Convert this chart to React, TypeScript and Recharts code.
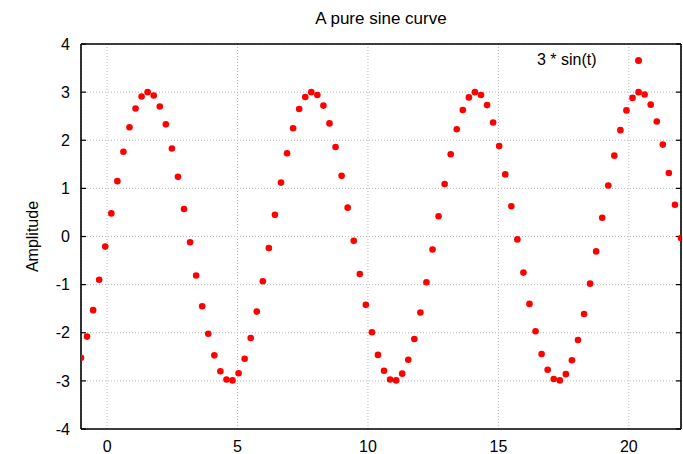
import { ScatterChart, Scatter, XAxis, YAxis, CartesianGrid, Legend } from 'recharts'

// sampled points of the curve (t, amplitude)
const T = [
  -1, -0.768, -0.535, -0.303, -0.071, 0.162, 0.394, 0.626, 0.859, 1.091,
  1.323, 1.556, 1.788, 2.02, 2.253, 2.485, 2.717, 2.949, 3.182, 3.414,
  3.646, 3.879, 4.111, 4.343, 4.576, 4.808, 5.04, 5.273, 5.505, 5.737,
  5.97, 6.202, 6.434, 6.667, 6.899, 7.131, 7.364, 7.596, 7.828, 8.061,
  8.293, 8.525, 8.758, 8.99, 9.222, 9.455, 9.687, 9.919, 10.152, 10.384,
  10.616, 10.848, 11.081, 11.313, 11.545, 11.778, 12.01, 12.242, 12.475, 12.707,
  12.939, 13.172, 13.404, 13.636, 13.869, 14.101, 14.333, 14.566, 14.798, 15.03,
  15.263, 15.495, 15.727, 15.96, 16.192, 16.424, 16.657, 16.889, 17.121, 17.354,
  17.586, 17.818, 18.051, 18.283, 18.515, 18.747, 18.98, 19.212, 19.444, 19.677,
  19.909, 20.141, 20.374, 20.606, 20.838, 21.071, 21.303, 21.535, 21.768, 22,
]

const AMP = [
  -2.52, -2.08, -1.53, -0.9, -0.21, 0.48, 1.15, 1.76, 2.27, 2.66,
  2.91, 3.0, 2.93, 2.7, 2.33, 1.83, 1.24, 0.57, -0.12, -0.81,
  -1.45, -2.02, -2.47, -2.8, -2.97, -2.99, -2.84, -2.54, -2.11, -1.56,
  -0.93, -0.24, 0.45, 1.12, 1.73, 2.25, 2.65, 2.9, 3.0, 2.94,
  2.72, 2.35, 1.86, 1.26, 0.6, -0.09, -0.78, -1.42, -1.99, -2.46,
  -2.79, -2.97, -2.99, -2.85, -2.56, -2.13, -1.58, -0.95, -0.27, 0.42,
  1.09, 1.71, 2.23, 2.63, 2.89, 3.0, 2.94, 2.73, 2.37, 1.88,
  1.29, 0.63, -0.06, -0.75, -1.4, -1.97, -2.44, -2.77, -2.96, -2.99,
  -2.86, -2.57, -2.15, -1.61, -0.98, -0.31, 0.39, 1.06, 1.68, 2.21,
  2.62, 2.88, 3.0, 2.95, 2.74, 2.39, 1.91, 1.32, 0.66, -0.03,
]

const X_TICKS = [0, 5, 10, 15, 20]
const Y_TICKS = [-4, -3, -2, -1, 0, 1, 2, 3, 4]
const X_DOMAIN = [-1, 22]
const Y_DOMAIN = [-4, 4]

const TITLE = 'A pure sine curve'
const SERIES_NAME = '3 * sin(t)'
const Y_LABEL = 'Amplitude'

const FONT = '"Liberation Sans", Arial, Helvetica, sans-serif'
const RED = '#ff0000'

const data = T.map((t, i) => ({ t, y: AMP[i] }))

const AXIS_LINE = { stroke: '#000', strokeWidth: 1.6 } as const
const TICK_LINE = { stroke: '#000', strokeWidth: 1.2 } as const
const TICK_STYLE = { fontSize: 16, fill: '#000', fontFamily: FONT } as const
const CHART_MARGIN = { top: 44, right: 2, bottom: 0, left: 0 } as const

function Dot(props: { cx?: number; cy?: number }) {
  if (props.cx == null || props.cy == null) return null
  return <circle cx={props.cx} cy={props.cy} r={3.3} fill={RED} />
}

// tick marks only, no label
function NoLabel() {
  return <g />
}

function KeyBox() {
  return (
    <div style={{ display: 'flex', alignItems: 'center', fontFamily: FONT, fontSize: 16, lineHeight: '20px', color: '#000' }}>
      <span>{SERIES_NAME}</span>
      <span style={{ display: 'inline-block', width: 7, height: 7, borderRadius: '50%', background: RED, marginLeft: 38 }} />
    </div>
  )
}

export default function App() {
  return (
    <div style={{ position: 'fixed', left: 0, top: 0, width: 683, height: 454, background: '#fff' }}>
      <div
        style={{
          position: 'absolute',
          left: 81,
          top: 8,
          width: 600,
          textAlign: 'center',
          fontFamily: FONT,
          fontSize: 17,
          lineHeight: '22px',
          color: '#000',
        }}
      >
        {TITLE}
      </div>
      <ScatterChart width={683} height={454} margin={CHART_MARGIN}>
        <CartesianGrid stroke="#b8b8b8" strokeDasharray="1 2" />
        <XAxis
          dataKey="t"
          type="number"
          domain={X_DOMAIN}
          ticks={X_TICKS}
          allowDataOverflow
          height={25}
          axisLine={AXIS_LINE}
          tickLine={false}
          tickSize={0}
          tickMargin={12}
          tick={TICK_STYLE}
        />
        <YAxis
          dataKey="y"
          type="number"
          domain={Y_DOMAIN}
          ticks={Y_TICKS}
          allowDataOverflow
          width={81}
          axisLine={AXIS_LINE}
          tickLine={false}
          tickSize={0}
          tickMargin={11}
          tick={TICK_STYLE}
          label={{ value: Y_LABEL, angle: -90, position: 'center', dx: -8, fontSize: 16, fill: '#000', fontFamily: FONT }}
        />
        {/* inward tick marks on all four sides, plus top and right border */}
        <XAxis xAxisId="bm" type="number" domain={X_DOMAIN} ticks={X_TICKS} allowDataOverflow orientation="bottom" mirror height={1} axisLine={false} tickLine={TICK_LINE} tickSize={5} tick={NoLabel} />
        <XAxis xAxisId="top" type="number" domain={X_DOMAIN} ticks={X_TICKS} allowDataOverflow orientation="top" mirror height={1} axisLine={AXIS_LINE} tickLine={TICK_LINE} tickSize={5} tick={NoLabel} />
        <YAxis yAxisId="lm" type="number" domain={Y_DOMAIN} ticks={Y_TICKS} allowDataOverflow orientation="left" mirror width={1} axisLine={false} tickLine={TICK_LINE} tickSize={5} tick={NoLabel} />
        <YAxis yAxisId="right" type="number" domain={Y_DOMAIN} ticks={Y_TICKS} allowDataOverflow orientation="right" mirror width={1} axisLine={AXIS_LINE} tickLine={TICK_LINE} tickSize={5} tick={NoLabel} />
        <Legend
          layout="horizontal"
          verticalAlign="middle"
          align="center"
          content={KeyBox}
          wrapperStyle={{ top: 50, left: 537, width: 140 }}
        />
        <Scatter name={SERIES_NAME} data={data} fill={RED} shape={Dot} isAnimationActive={false} />
      </ScatterChart>
    </div>
  )
}
